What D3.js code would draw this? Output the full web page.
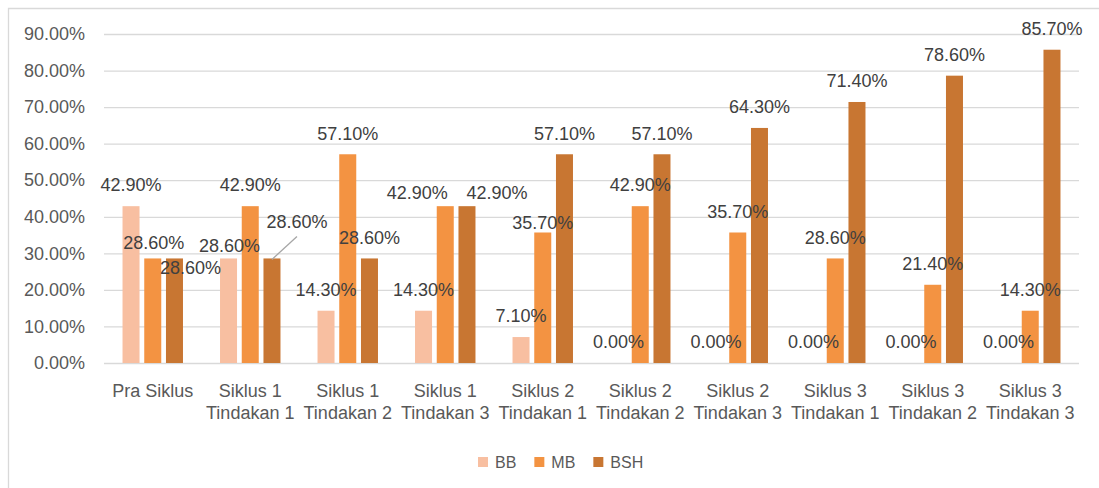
<!DOCTYPE html>
<html>
<head>
<meta charset="utf-8">
<script src="https://cdn.jsdelivr.net/npm/d3@7"></script>
<style>
  html, body { margin: 0; padding: 0; background: #fff; }
  svg { display: block; font-family: "Liberation Sans", Arial, sans-serif; }
</style>
</head>
<body>
<svg id="chart" width="1099" height="488"></svg>
<script>
// ---- data ----
const categories = [
  "Pra Siklus",
  "Siklus 1 Tindakan 1",
  "Siklus 1 Tindakan 2",
  "Siklus 1 Tindakan 3",
  "Siklus 2 Tindakan 1",
  "Siklus 2 Tindakan 2",
  "Siklus 2 Tindakan 3",
  "Siklus 3 Tindakan 1",
  "Siklus 3 Tindakan 2",
  "Siklus 3 Tindakan 3"
];
const seriesNames = ["BB", "MB", "BSH"];
const valuesBB  = [42.9, 28.6, 14.3, 14.3, 7.1, 0, 0, 0, 0, 0];
const valuesMB  = [28.6, 42.9, 57.1, 42.9, 35.7, 42.9, 35.7, 28.6, 21.4, 14.3];
const valuesBSH = [28.6, 28.6, 28.6, 42.9, 57.1, 57.1, 64.3, 71.4, 78.6, 85.7];
const yTicks = [0, 10, 20, 30, 40, 50, 60, 70, 80, 90];

// ---- layout / style (separate from data) ----
const colors = { BB: "#f8bfa1", MB: "#f39342", BSH: "#c87632" };
// manual label nudges as in the original (series -> category index -> [dx, dy, leader])
const labelNudges = {
  BB:  { 1: [1, 8] },
  MB:  { 0: [1, 5], 3: [-28, 8], 4: [0, 11] },
  BSH: { 0: [16, 30], 1: [25, -16, true], 3: [30, 8] }
};

const svg = d3.select("#chart");
const W = 1099, H = 488;
const plot = { left: 104, right: 1079, top: 34, bottom: 363 };
const textColor = "#595959";
const gridColor = "#d9d9d9";

// chart border (top and left visible)
svg.append("path")
  .attr("d", `M8.5,${H + 2} L8.5,8.5 L${W + 2},8.5`)
  .attr("fill", "none")
  .attr("stroke", gridColor)
  .attr("stroke-width", 1.3);

const y = d3.scaleLinear().domain([0, 90]).range([plot.bottom, plot.top]);
const x0 = d3.scaleBand().domain(categories).range([plot.left, plot.right])
  .paddingInner(0.38).paddingOuter(0.19);
const x1 = d3.scaleBand().domain(seriesNames).range([0, x0.bandwidth()]).paddingInner(0.217);

// y axis with gridlines
const yAxis = d3.axisLeft(y).tickValues(yTicks)
  .tickSize(-(plot.right - plot.left))
  .tickPadding(19)
  .tickFormat(d => d.toFixed(2) + "%");
const gy = svg.append("g").attr("transform", `translate(${plot.left},0)`).call(yAxis);
gy.select(".domain").remove();
gy.selectAll(".tick line").attr("stroke", gridColor).attr("stroke-width", 1.3);
gy.selectAll(".tick text").attr("fill", textColor).attr("font-size", 18)
  .attr("font-family", "Liberation Sans, Arial, sans-serif");

// x axis
const xAxis = d3.axisBottom(x0).tickSize(0).tickPadding(0);
const gx = svg.append("g").attr("transform", `translate(0,${plot.bottom})`).call(xAxis);
gx.select(".domain").remove();
gx.selectAll(".tick text").each(function(d) {
  const t = d3.select(this);
  t.text(null).attr("fill", textColor).attr("font-size", 18)
    .attr("font-family", "Liberation Sans, Arial, sans-serif")
    .attr("y", 0).attr("dy", null);
  const m = d.match(/^(Siklus \d) (.*)$/);
  const lines = m ? [m[1], m[2]] : [d];
  lines.forEach((ln, i) => {
    t.append("tspan").attr("x", 0).attr("y", 28 + i * 22).attr("dy", "0.35em").text(ln);
  });
});

// bars
const seriesData = { BB: valuesBB, MB: valuesMB, BSH: valuesBSH };
const flat = [];
seriesNames.forEach(s => {
  seriesData[s].forEach((v, i) => flat.push({ s, i, c: categories[i], v }));
});

svg.append("g").selectAll("rect").data(flat).join("rect")
  .attr("x", d => x0(d.c) + x1(d.s))
  .attr("width", x1.bandwidth())
  .attr("y", d => y(d.v))
  .attr("height", d => y(0) - y(d.v))
  .attr("fill", d => colors[d.s]);

// leader lines
const labelPos = d => {
  const n = (labelNudges[d.s] && labelNudges[d.s][d.i]) || [0, 0];
  const bx = x0(d.c) + x1(d.s) + x1.bandwidth() / 2;
  return { bx, by: y(d.v), lx: bx + n[0], ly: y(d.v) - 21 + n[1], leader: !!n[2] };
};
svg.append("g").selectAll("line").data(flat.filter(d => labelPos(d).leader)).join("line")
  .attr("x1", d => labelPos(d).lx)
  .attr("y1", d => labelPos(d).ly + 15)
  .attr("x2", d => labelPos(d).bx)
  .attr("y2", d => labelPos(d).by + 1)
  .attr("stroke", "#a6a6a6").attr("stroke-width", 1.3);

// data labels
svg.append("g").selectAll("text").data(flat).join("text")
  .attr("x", d => labelPos(d).lx)
  .attr("y", d => labelPos(d).ly)
  .attr("dy", "0.35em")
  .attr("text-anchor", "middle")
  .attr("font-size", 18)
  .attr("fill", "#404040")
  .text(d => d.v.toFixed(2) + "%");

// legend
const legend = svg.append("g").attr("transform", "translate(478,462)");
let lx = 0;
seriesNames.forEach(s => {
  const g = legend.append("g").attr("transform", `translate(${lx},0)`);
  g.append("rect").attr("x", 0).attr("y", -5).attr("width", 10).attr("height", 10).attr("fill", colors[s]);
  const t = g.append("text").attr("x", 17).attr("dy", "0.35em")
    .attr("font-size", 16).attr("fill", textColor).text(s);
  const w = t.node().getComputedTextLength();
  lx += 17 + w + 18;
});
</script>
</body>
</html>
